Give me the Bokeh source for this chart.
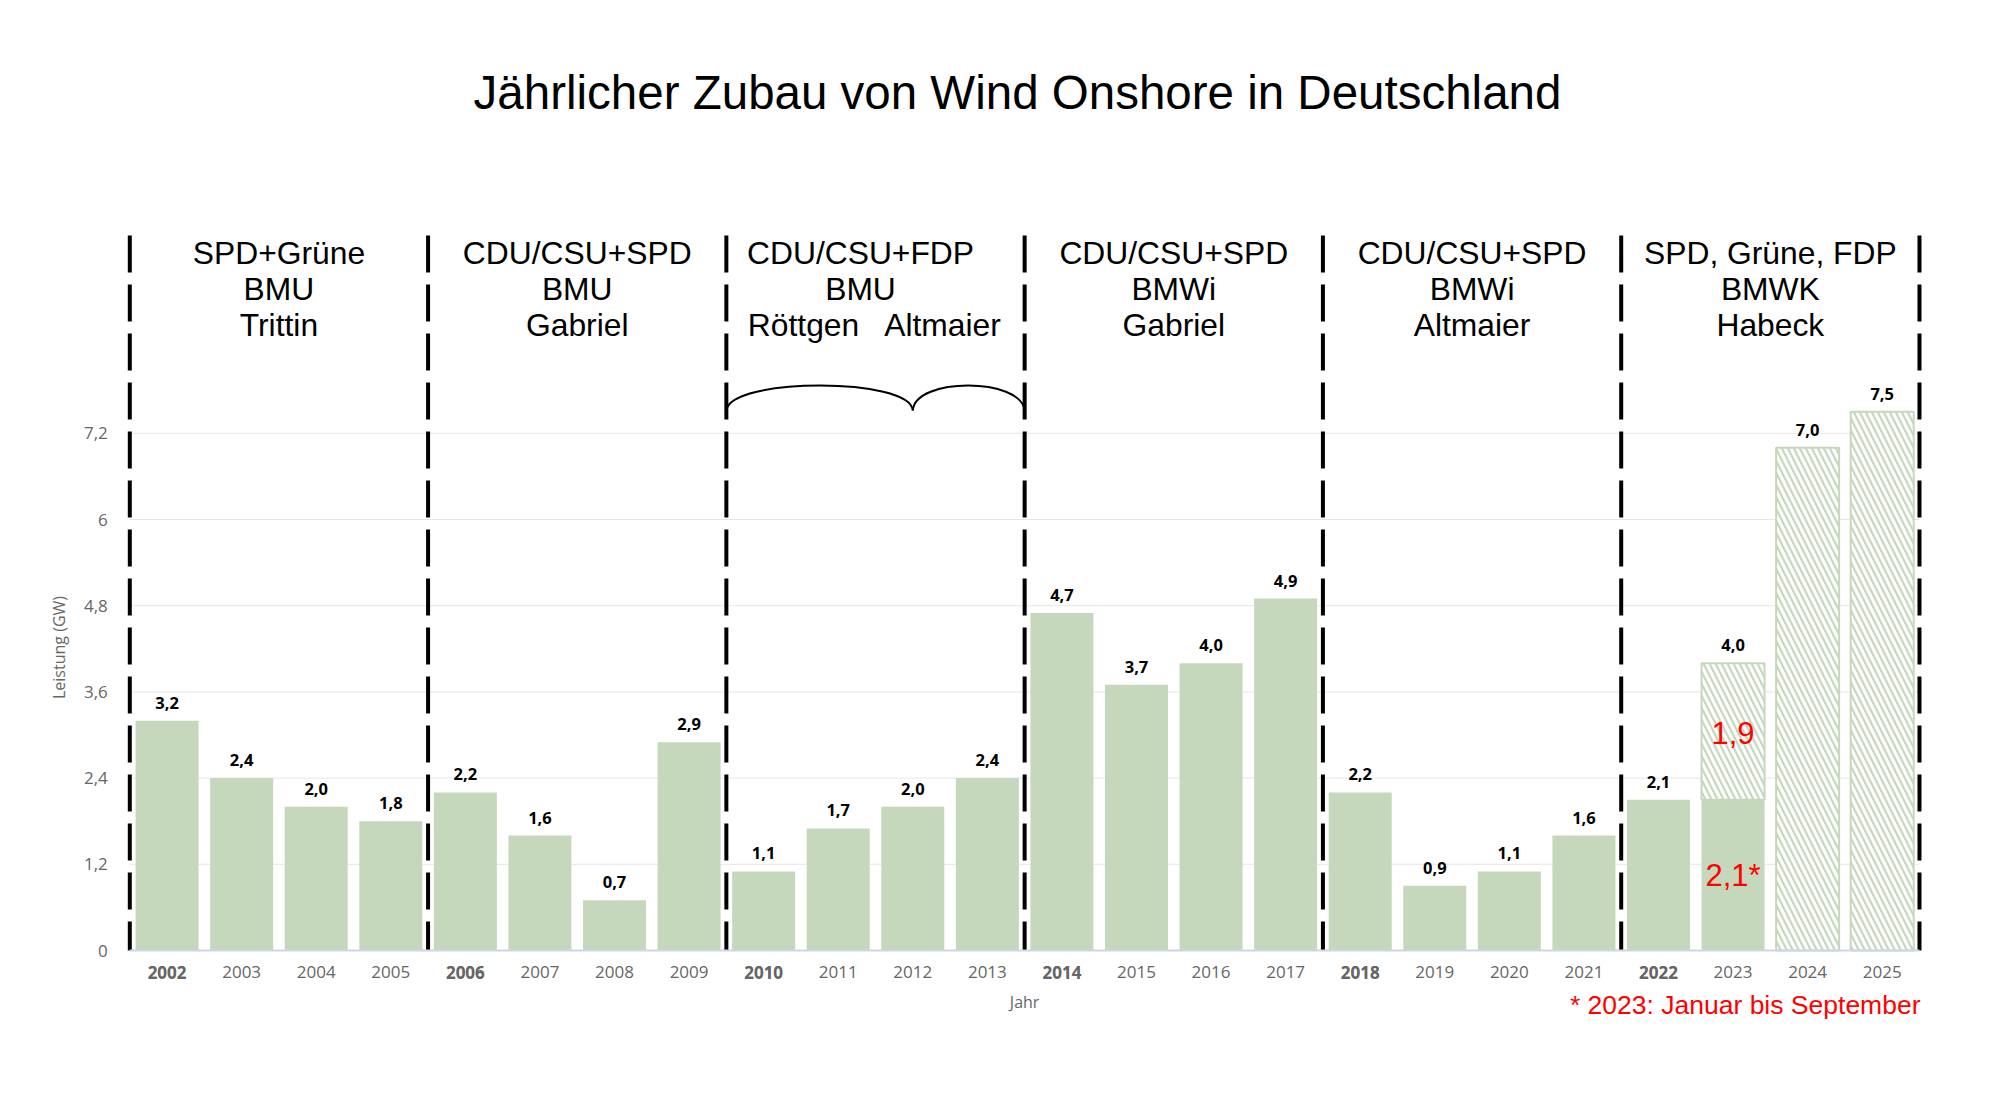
import math
from bokeh.plotting import figure
from bokeh.models import Range1d, FixedTicker, LinearAxis, CustomJSTickFormatter
from bokeh.core.properties import value
from bokeh.embed import file_html
from bokeh.resources import INLINE

# ---------------- data ----------------
years = ["2002", "2003", "2004", "2005", "2006", "2007", "2008", "2009",
         "2010", "2011", "2012", "2013", "2014", "2015", "2016", "2017",
         "2018", "2019", "2020", "2021", "2022", "2023", "2024", "2025"]
# realised additions in GW (2023: January to September)
built_years = years[:22]
built_gw = [3.2, 2.4, 2.0, 1.8, 2.2, 1.6, 0.7, 2.9, 1.1, 1.7, 2.0, 2.4,
            4.7, 3.7, 4.0, 4.9, 2.2, 0.9, 1.1, 1.6, 2.1, 2.1]
# expected / target values (hatched)
target_years = ["2023", "2024", "2025"]
target_from = [2.1, 0.0, 0.0]
target_gw = [4.0, 7.0, 7.5]
# value labels on top of each column
top_labels = [3.2, 2.4, 2.0, 1.8, 2.2, 1.6, 0.7, 2.9, 1.1, 1.7, 2.0, 2.4,
              4.7, 3.7, 4.0, 4.9, 2.2, 0.9, 1.1, 1.6, 2.1, 4.0, 7.0, 7.5]
red_year = "2023"
red_remaining = "1,9"
red_partial = "2,1*"
footnote = "* 2023: Januar bis September"

# legislative periods
period_first = ["2002", "2006", "2010", "2014", "2018", "2022"]
period_last = "2025"
coalitions = ["SPD+Grüne", "CDU/CSU+SPD", "CDU/CSU+FDP", "CDU/CSU+SPD", "CDU/CSU+SPD", "SPD, Grüne, FDP"]
ministries = ["BMU", "BMU", "BMU", "BMWi", "BMWi", "BMWK"]
ministers = ["Trittin", "Gabriel", "", "Gabriel", "Altmaier", "Habeck"]
split_ministers = ["Röttgen", "Altmaier"]
minister_change_year = "2012"   # Röttgen -> Altmaier (May 2012)

y_ticks = [0, 1.2, 2.4, 3.6, 4.8, 6, 7.2]
title_text = "Jährlicher Zubau von Wind Onshore in Deutschland"
x_title = "Jahr"
y_title = "Leistung (GW)"

# ---------------- layout helpers ----------------
GREEN = "#c6d8bc"
GREY = "#666666"
W, H = 1984, 1089
PX_X = 74.57               # px per category
PX_Y = 71.83               # px per GW
X_LEFT_PX = 129.3          # page x of the left period boundary (index -0.5)
ZERO_PX = 950              # page y of value 0
XS = -0.5 - X_LEFT_PX / PX_X
XE = XS + W / PX_X
YS = -(H - ZERO_PX) / PX_Y
YE = ZERO_PX / PX_Y

def xd(px):
    return XS + px / PX_X

def yd(px):
    return (ZERO_PX - px) / PX_Y

idx = {y: i for i, y in enumerate(years)}
first_i, last_i = 0, len(years) - 1

p = figure(width=W, height=H, x_range=Range1d(XS, XE), y_range=Range1d(YS, YE),
           min_border=0, toolbar_location=None, output_backend="svg", title=None)
p.outline_line_color = None
p.background_fill_color = "white"
p.xgrid.visible = False
p.ygrid.visible = False

# axes (placed inside the canvas)
TICK_FONT = "Open Sans"
p.xaxis.fixed_location = 0
p.xaxis.bounds = (first_i - 0.5, last_i + 0.5)
p.xaxis.ticker = FixedTicker(ticks=list(range(len(years))))
p.xaxis.major_label_overrides = {i: y for i, y in enumerate(years)}
p.xaxis.major_tick_line_color = None
p.xaxis.minor_tick_line_color = None
p.xaxis.axis_line_color = "#ccd6eb"
p.xaxis.axis_line_width = 2
p.xaxis.major_label_standoff = 9
p.xaxis.major_label_text_font = TICK_FONT
p.xaxis.major_label_text_font_size = "17px"
p.xaxis.major_label_text_color = GREY

bold_axis = LinearAxis(fixed_location=0,
                       ticker=FixedTicker(ticks=[idx[y] for y in period_first]),
                       major_label_overrides={idx[y]: y for y in period_first},
                       axis_line_color=None, major_tick_line_color=None,
                       minor_tick_line_color=None, major_label_standoff=9,
                       major_label_text_font=TICK_FONT,
                       major_label_text_font_style="bold",
                       major_label_text_font_size="17px",
                       major_label_text_color=GREY)
p.add_layout(bold_axis, "below")

p.yaxis.fixed_location = first_i - 0.5
p.yaxis.bounds = (y_ticks[0], y_ticks[-1])
p.yaxis.ticker = FixedTicker(ticks=y_ticks)
p.yaxis.formatter = CustomJSTickFormatter(
    code="const s = (Math.round(tick*10)/10).toString(); return s.replace('.', ',');")
p.yaxis.axis_line_color = None
p.yaxis.major_tick_line_color = None
p.yaxis.minor_tick_line_color = None
p.yaxis.major_label_standoff = 16
p.yaxis.major_label_text_font = TICK_FONT
p.yaxis.major_label_text_font_size = "17px"
p.yaxis.major_label_text_color = GREY

# horizontal grid lines across the plot area
gy = y_ticks[1:]
p.segment(x0=[first_i - 0.5] * len(gy), y0=gy, x1=[last_i + 0.5] * len(gy), y1=gy,
          line_color="#e6e6e6", line_width=1)

# bars
BW = 0.845
p.vbar(x=[idx[y] for y in built_years], top=built_gw, width=BW,
       fill_color=GREEN, line_color=None)
p.vbar(x=[idx[y] for y in target_years], bottom=target_from, top=target_gw, width=BW,
       fill_color="white", line_color=GREEN, line_width=2,
       hatch_pattern="\\", hatch_color=GREEN, hatch_scale=12, hatch_weight=2.2)

# value labels
p.text(x=list(range(len(years))), y=top_labels,
       text=[f"{v:.1f}".replace(".", ",") for v in top_labels],
       text_align="center", text_baseline="middle", y_offset=-18,
       text_font=value("Open Sans"), text_font_style="bold",
       text_font_size="16.5px", text_color="black")

# red labels inside the 2023 column
p.text(x=[idx[red_year], idx[red_year]], y=[yd(732), yd(875)],
       text=[red_remaining, red_partial], text_align="center",
       text_baseline="middle", text_font=value("Liberation Sans"),
       text_font_size="31px", text_color="red")

# legislative period separators
bounds = [idx[y] - 0.5 for y in period_first] + [idx[period_last] + 0.5]
p.segment(x0=bounds, y0=[yd(235)] * len(bounds), x1=bounds, y1=[0] * len(bounds),
          line_color="black", line_width=4, line_dash="37 12")

# period headers
centers = [(bounds[i] + bounds[i + 1]) / 2 for i in range(len(period_first))]
hx = list(centers)
hx[2] = xd(860)
row_y = [yd(252.6), yd(288.3), yd(324.0)]
hdr_kw = dict(text_align="center", text_baseline="middle",
              text_font=value("Liberation Sans"), text_font_size="31.8px",
              text_color="black")
p.text(x=hx, y=[row_y[0]] * 6, text=coalitions, **hdr_kw)
p.text(x=hx, y=[row_y[1]] * 6, text=ministries, **hdr_kw)
mx = [hx[i] for i in range(6) if ministers[i]]
p.text(x=mx, y=[row_y[2]] * len(mx), text=[m for m in ministers if m], **hdr_kw)
p.text(x=[xd(803), xd(942)], y=[row_y[2]] * 2, text=split_ministers, **hdr_kw)

# brace under Röttgen / Altmaier
b0, b1, b2 = bounds[2], idx[minister_change_year], bounds[3]
by, bc = yd(410), yd(410) + (yd(385) - yd(410)) / 0.75
p.bezier(x0=[b0, b1], y0=[by, by], x1=[b1, b2], y1=[by, by],
         cx0=[b0 + 0.05, b1 + 0.03], cy0=[bc, bc], cx1=[b1 - 0.03, b2 - 0.05], cy1=[bc, bc],
         line_color="black", line_width=2)

# title
p.text(x=[xd(1017)], y=[yd(92)], text=[title_text], text_align="center",
       text_baseline="middle", text_font=value("Liberation Sans"),
       text_font_size="47.5px", text_color="black")

# axis titles
p.text(x=[(first_i + last_i) / 2], y=[yd(1001)], text=[x_title], text_align="center",
       text_baseline="middle", text_font=value("Open Sans"),
       text_font_size="16px", text_color=GREY)
p.text(x=[xd(58)], y=[yd(647)], text=[y_title], angle=math.pi / 2,
       text_align="center", text_baseline="middle", text_font=value("Open Sans"),
       text_font_size="16px", text_color=GREY)

# footnote
p.text(x=[xd(1920)], y=[yd(1004)], text=[footnote], text_align="right",
       text_baseline="middle", text_font=value("Liberation Sans"),
       text_font_size="26.5px", text_color="red")

open("out.html", "w").write(file_html(p, INLINE))
